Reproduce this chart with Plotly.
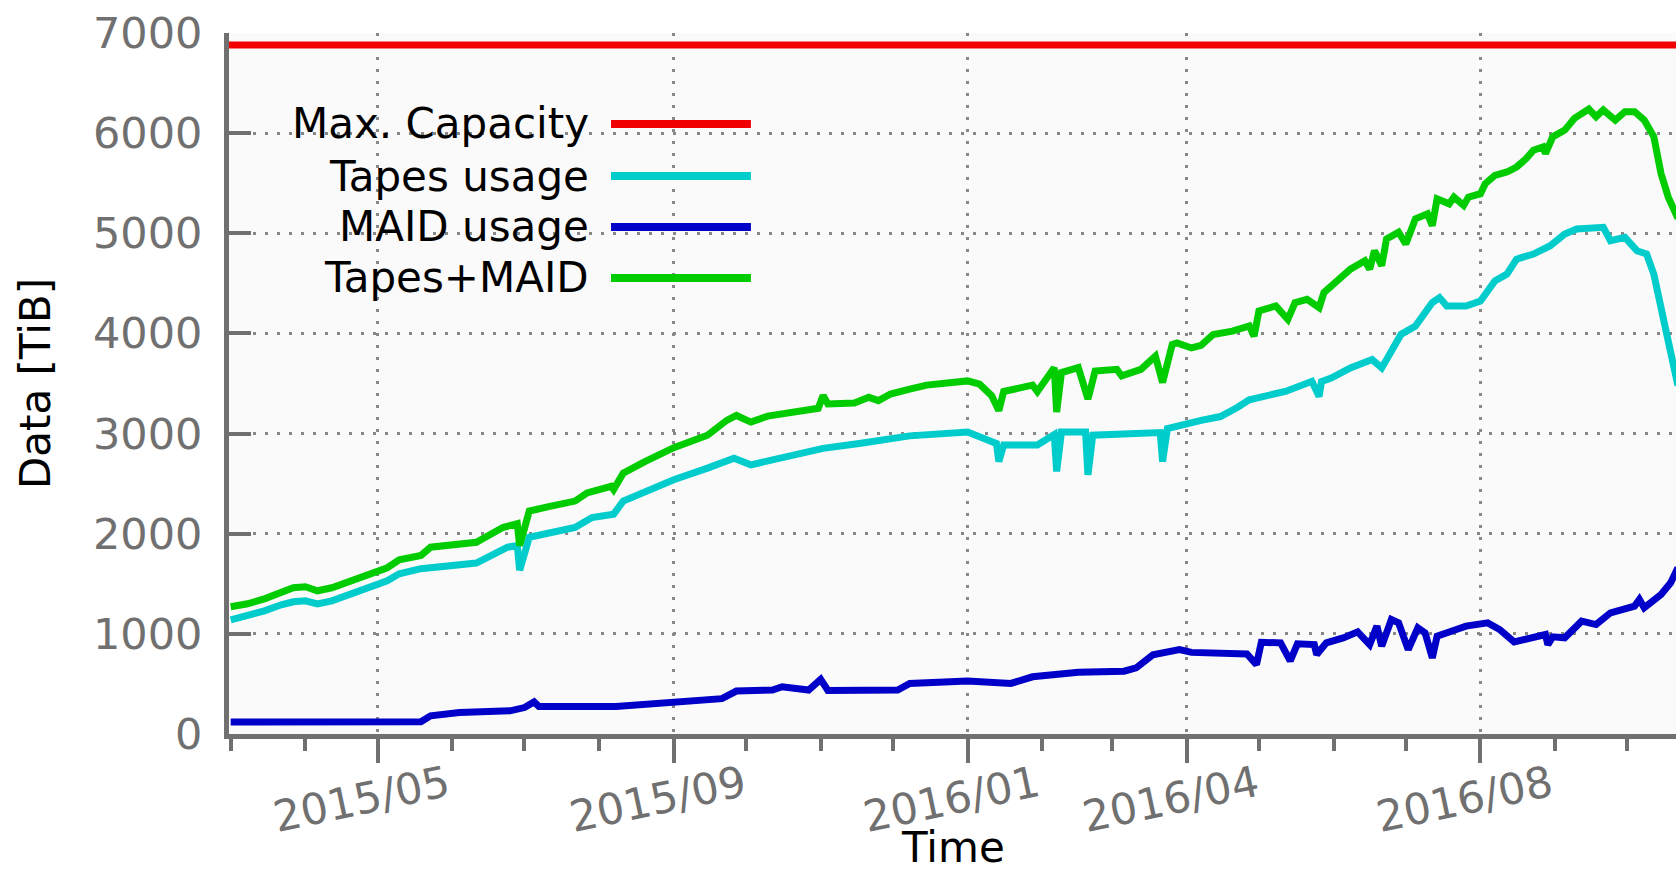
import plotly.graph_objects as go

# ---------------- data ----------------
maid_dates = ["2015-03-01","2015-04-01","2015-05-01","2015-05-19","2015-05-23","2015-06-04","2015-06-25",
    "2015-07-01","2015-07-05","2015-07-07","2015-08-08","2015-08-30","2015-09-21","2015-09-27","2015-10-12",
    "2015-10-16","2015-10-27","2015-11-01","2015-11-04","2015-12-03","2015-12-08","2016-01-01","2016-01-19",
    "2016-01-28","2016-02-16","2016-03-06","2016-03-11","2016-03-18","2016-03-29","2016-04-03","2016-04-26",
    "2016-04-30","2016-05-02","2016-05-10","2016-05-14","2016-05-17","2016-05-24","2016-05-25","2016-05-29",
    "2016-06-05","2016-06-11","2016-06-16","2016-06-19","2016-06-21","2016-06-25","2016-06-28","2016-07-02",
    "2016-07-06","2016-07-09","2016-07-12","2016-07-14","2016-07-22","2016-07-26","2016-08-04","2016-08-09",
    "2016-08-15","2016-08-23","2016-08-28","2016-08-29","2016-08-31","2016-09-05","2016-09-12","2016-09-18",
    "2016-09-24","2016-10-04","2016-10-06","2016-10-08","2016-10-15","2016-10-19","2016-10-22"]
maid_tib = [120,122,120,122,182,215,231,
    264,320,274,274,314,353,429,439,
    472,439,545,435,439,505,528,505,
    571,617,627,660,792,842,815,800,
    693,915,910,730,900,893,793,910,
    960,1020,893,1077,877,1143,1110,843,
    1060,1010,760,977,1043,1077,1110,1043,
    920,960,993,893,970,960,1127,1093,
    1210,1277,1343,1260,1393,1510,1660]

tapes_dates = ["2015-03-01","2015-03-08","2015-03-15","2015-03-22","2015-03-27","2015-04-01","2015-04-06",
    "2015-04-12","2015-04-20","2015-04-26","2015-05-01","2015-05-05","2015-05-10","2015-05-19","2015-06-11",
    "2015-06-24","2015-06-28","2015-06-29","2015-07-03","2015-07-22","2015-07-29","2015-08-07","2015-08-11",
    "2015-08-20","2015-09-01","2015-09-15","2015-09-26","2015-10-03","2015-10-16","2015-11-02","2015-11-17",
    "2015-11-25","2015-12-08","2016-01-01","2016-01-07","2016-01-13","2016-01-14","2016-01-16","2016-01-30",
    "2016-02-06","2016-02-07","2016-02-09","2016-02-19","2016-02-20","2016-02-22","2016-03-13","2016-03-21",
    "2016-03-22","2016-03-24","2016-04-07","2016-04-15","2016-04-22","2016-04-27","2016-05-12","2016-05-23",
    "2016-05-26","2016-05-27","2016-05-31","2016-06-08","2016-06-17","2016-06-21","2016-06-25","2016-06-29",
    "2016-07-05","2016-07-12","2016-07-15","2016-07-18","2016-07-26","2016-08-01","2016-08-07","2016-08-12",
    "2016-08-16","2016-08-23","2016-08-30","2016-09-05","2016-09-10","2016-09-21","2016-09-24","2016-09-30",
    "2016-10-05","2016-10-09","2016-10-12","2016-10-15","2016-10-18","2016-10-22"]
tapes_tib = [1140,1180,1230,1290,1320,1330,1300,
    1330,1400,1440,1480,1530,1600,1651,1707,
    1865,1882,1635,1964,2062,2161,2194,2326,
    2424,2539,2655,2753,2688,2760,2852,2901,
    2934,2977,3016,2967,2900,2720,2885,2885,
    2990,2622,3016,3016,2589,2984,3000,3010,
    2720,3050,3132,3170,3260,3338,3421,3522,
    3371,3520,3555,3656,3739,3656,3823,3990,
    4074,4308,4358,4274,4274,4324,4525,4592,
    4742,4793,4876,4993,5043,5060,4926,4960,
    4826,4793,4592,4224,3923,3480]

total_dates = ["2015-03-01","2015-03-08","2015-03-15","2015-03-22","2015-03-27","2015-04-01","2015-04-06",
    "2015-04-12","2015-04-20","2015-04-26","2015-05-01","2015-05-05","2015-05-10","2015-05-19","2015-05-23",
    "2015-06-11","2015-06-22","2015-06-28","2015-06-29","2015-07-03","2015-07-12","2015-07-22","2015-07-27",
    "2015-08-06","2015-08-07","2015-08-11","2015-08-20","2015-09-01","2015-09-15","2015-09-23","2015-09-27",
    "2015-10-03","2015-10-10","2015-10-16","2015-10-31","2015-11-02","2015-11-04","2015-11-15","2015-11-21",
    "2015-11-25","2015-11-30","2015-12-08","2015-12-15","2016-01-01","2016-01-06","2016-01-11","2016-01-14",
    "2016-01-16","2016-01-28","2016-01-30","2016-02-06","2016-02-07","2016-02-09","2016-02-16","2016-02-20",
    "2016-02-23","2016-03-03","2016-03-05","2016-03-13","2016-03-19","2016-03-22","2016-03-26","2016-03-28",
    "2016-04-03","2016-04-07","2016-04-12","2016-04-20","2016-04-27","2016-04-29","2016-05-01","2016-05-08",
    "2016-05-13","2016-05-16","2016-05-21","2016-05-26","2016-05-28","2016-06-03","2016-06-08","2016-06-14",
    "2016-06-16","2016-06-18","2016-06-21","2016-06-23","2016-06-28","2016-07-01","2016-07-05","2016-07-10",
    "2016-07-12","2016-07-14","2016-07-19","2016-07-21","2016-07-25","2016-07-27","2016-08-01","2016-08-03",
    "2016-08-07","2016-08-12","2016-08-16","2016-08-20","2016-08-23","2016-08-27","2016-08-28","2016-08-31",
    "2016-09-05","2016-09-09","2016-09-15","2016-09-18","2016-09-21","2016-09-26","2016-09-30","2016-10-04",
    "2016-10-08","2016-10-12","2016-10-15","2016-10-18","2016-10-22"]
total_tib = [1270,1300,1350,1420,1460,1470,1430,
    1460,1530,1580,1620,1660,1740,1783,1865,
    1914,2062,2100,1882,2227,2276,2326,2408,
    2474,2441,2605,2720,2859,2984,3132,3181,
    3115,3174,3197,3253,3380,3296,3306,3362,
    3329,3395,3444,3484,3526,3493,3378,3230,
    3420,3484,3420,3658,3214,3609,3658,3345,
    3625,3641,3576,3641,3773,3510,3890,3905,
    3855,3880,3990,4023,4074,3973,4224,4274,
    4140,4308,4341,4258,4408,4525,4642,4726,
    4642,4826,4676,4943,5010,4893,5144,5194,
    5077,5344,5294,5361,5278,5361,5395,5495,
    5579,5612,5662,5746,5829,5863,5796,5963,
    6030,6147,6240,6164,6231,6130,6214,6214,
    6130,5963,5595,5361,5150]

capacity_dates = ["2015-02-27", "2016-10-22"]
capacity_tib = [6880, 6880]

series_names = ["Max. Capacity", "Tapes usage", "MAID usage", "Tapes+MAID"]
series_colors = ["#f00000", "#00cccc", "#0000c8", "#00cc00"]

major_tick_dates = ["2015-05-01", "2015-09-01", "2016-01-01", "2016-04-01", "2016-08-01"]
major_tick_labels = ["2015/05", "2015/09", "2016/01", "2016/04", "2016/08"]
y_ticks = [0, 1000, 2000, 3000, 4000, 5000, 6000, 7000]

# ---------------- figure ----------------
FONT = "DejaVu Sans"
AX = "#707070"
W, H = 1676, 874
ML, MT, MB = 229, 33, 140

fig = go.Figure()
series = [(capacity_dates, capacity_tib, 7), (tapes_dates, tapes_tib, 7),
          (maid_dates, maid_tib, 7), (total_dates, total_tib, 7)]
for (xd, yd, lw), name, col in zip(series, series_names, series_colors):
    fig.add_trace(go.Scatter(x=xd, y=yd, mode="lines", name=name,
                             line=dict(color=col, width=lw), showlegend=False))

# gnuplot-style key: right-aligned text followed by a line sample
key_y = [0.8702, 0.7960, 0.7233, 0.6505]
for name, col, ky in zip(series_names, series_colors, key_y):
    fig.add_annotation(xref="paper", yref="paper", x=0.2505, y=ky, text=name,
                       showarrow=False, xanchor="right", yanchor="middle",
                       font=dict(family=FONT, size=42, color="#000000"))
    fig.add_shape(type="line", xref="paper", yref="paper", x0=0.264, x1=0.3607,
                  y0=ky, y1=ky, line=dict(color=col, width=8))

# x-axis title placed a little lower than plotly's margin-constrained title
fig.add_annotation(xref="paper", yref="paper", x=0.5, y=-0.1626, text="Time",
                   showarrow=False, xanchor="center", yanchor="middle",
                   font=dict(family=FONT, size=42, color="#000000"))

fig.update_layout(
    width=W, height=H,
    margin=dict(l=ML, r=0, t=MT, b=MB, autoexpand=False),
    paper_bgcolor="#ffffff", plot_bgcolor="#fafafa",
    font=dict(family=FONT, size=42, color=AX),
)
fig.update_xaxes(
    type="date", range=["2015-02-28 07:00", "2016-10-21 05:00"],
    tickmode="array", tickvals=major_tick_dates, ticktext=major_tick_labels,
    tickangle=-12, ticklabelshift=70, ticklabelstandoff=-19,
    ticks="outside", ticklen=24, tickwidth=4, tickcolor=AX,
    tickfont=dict(family=FONT, size=43, color=AX),
    minor=dict(ticks="outside", ticklen=12, tickwidth=4, tickcolor=AX,
               dtick="M1", tick0="2015-01-01", showgrid=False),
    showline=True, linecolor=AX, linewidth=5, mirror=False,
    showgrid=True, gridcolor="#888888", gridwidth=2.5, griddash="3px,9px",
    zeroline=False, automargin=False,
)
fig.update_yaxes(
    range=[0, 7000], tickmode="array", tickvals=y_ticks,
    ticks="inside", ticklen=22, tickwidth=4, tickcolor=AX,
    tickfont=dict(family=FONT, size=43, color=AX), ticklabelstandoff=13,
    showline=True, linecolor=AX, linewidth=5, mirror=False,
    showgrid=True, gridcolor="#888888", gridwidth=2.5, griddash="3px,9px",
    zeroline=False, automargin=False,
    title=dict(text="Data [TiB]", font=dict(family=FONT, size=42, color="#000000"), standoff=31),
)

fig.write_html("out.html", config={"displayModeBar": False},
               post_script="document.body.style.margin='0px';document.body.style.overflow='hidden';")
